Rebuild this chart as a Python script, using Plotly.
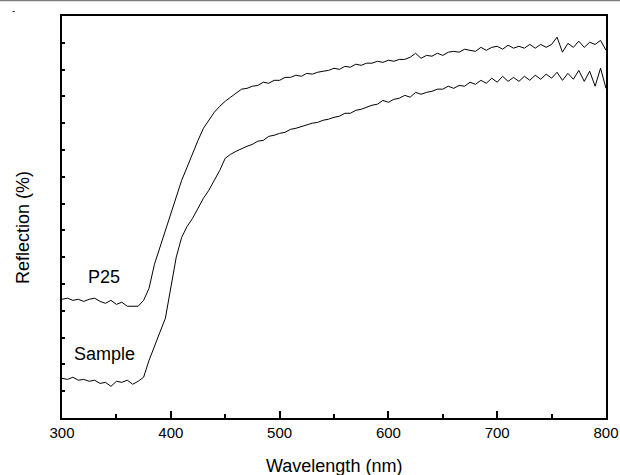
import plotly.graph_objects as go

wavelength = list(range(300, 801, 5))

p25 = [4.43, 4.47, 4.39, 4.43, 4.35, 4.43, 4.47, 4.35, 4.28, 4.39,
       4.24, 4.32, 4.17, 4.17, 4.17, 4.39, 4.84, 5.74, 6.37, 7.00,
       7.64, 8.24, 8.87, 9.36, 9.88, 10.36, 10.81, 11.11, 11.41, 11.63,
       11.82, 11.97, 12.12, 12.27, 12.30, 12.38, 12.41, 12.53, 12.49, 12.60,
       12.60, 12.71, 12.71, 12.79, 12.75, 12.86, 12.83, 12.90, 12.94, 12.97,
       13.05, 13.01, 13.12, 13.09, 13.20, 13.16, 13.24, 13.24, 13.31, 13.27,
       13.35, 13.31, 13.38, 13.38, 13.46, 13.61, 13.42, 13.53, 13.50, 13.61,
       13.53, 13.65, 13.68, 13.65, 13.76, 13.72, 13.68, 13.83, 13.72, 13.83,
       13.87, 13.76, 13.91, 13.80, 13.87, 13.80, 13.94, 13.80, 13.94, 13.83,
       13.94, 14.21, 13.65, 13.98, 13.83, 14.06, 13.83, 14.02, 13.94, 14.09,
       13.72]

sample = [1.48, 1.44, 1.52, 1.41, 1.44, 1.37, 1.41, 1.29, 1.33, 1.18,
          1.37, 1.33, 1.41, 1.26, 1.37, 1.52, 2.15, 2.71, 3.20, 3.72,
          4.88, 6.00, 6.74, 7.15, 7.45, 7.83, 8.20, 8.50, 8.87, 9.24,
          9.69, 9.84, 9.95, 10.06, 10.14, 10.21, 10.33, 10.36, 10.51, 10.55,
          10.62, 10.66, 10.77, 10.81, 10.88, 10.92, 11.00, 11.03, 11.11, 11.15,
          11.22, 11.26, 11.37, 11.37, 11.48, 11.52, 11.59, 11.67, 11.71, 11.85,
          11.78, 11.89, 11.93, 12.04, 11.97, 12.15, 12.08, 12.15, 12.19, 12.27,
          12.27, 12.38, 12.30, 12.41, 12.38, 12.53, 12.45, 12.60, 12.49, 12.68,
          12.53, 12.75, 12.56, 12.71, 12.56, 12.75, 12.60, 12.79, 12.64, 12.83,
          12.68, 12.90, 12.60, 12.86, 12.64, 12.97, 12.56, 12.94, 12.38, 13.05,
          12.30]

x_ticks = [300, 400, 500, 600, 700, 800]
series_labels = ["P25", "Sample"]

FONT = "Liberation Sans, Arial, Helvetica, sans-serif"

fig = go.Figure()
fig.add_trace(go.Scatter(x=wavelength, y=p25, mode="lines",
                         line=dict(color="black", width=1), name="P25"))
fig.add_trace(go.Scatter(x=wavelength, y=sample, mode="lines",
                         line=dict(color="black", width=1), name="Sample"))

fig.update_layout(
    width=620, height=475,
    margin=dict(l=62, r=14, t=16, b=57, autoexpand=False),
    paper_bgcolor="white", plot_bgcolor="white",
    showlegend=False,
    font=dict(family=FONT, color="black", size=15),
    xaxis=dict(range=[300, 800], tickvals=x_ticks, ticktext=[str(v) for v in x_ticks],
               ticks="inside", ticklen=7, tickwidth=1.5, tickcolor="black",
               minor=dict(tickvals=[350, 450, 550, 650, 750], ticks="inside",
                          ticklen=4, tickwidth=1.5, tickcolor="black"),
               showline=True, linecolor="black", linewidth=2, mirror=True,
               showgrid=False, zeroline=False, automargin=False,
               tickfont=dict(size=15, family=FONT, color="black")),
    yaxis=dict(range=[0, 15], dtick=1, tick0=0, showticklabels=False,
               ticks="inside", ticklen=3, tickwidth=1.5, tickcolor="black",
               showline=True, linecolor="black", linewidth=2, mirror=True,
               showgrid=False, zeroline=False, automargin=False),
    annotations=[
        dict(text="Wavelength (nm)", xref="paper", yref="paper", x=0.5, y=-0.1206,
             xanchor="center", yanchor="middle", showarrow=False,
             font=dict(size=18, family=FONT, color="black")),
        dict(text="Reflection (%)", xref="paper", yref="paper", x=-0.0717, y=0.475,
             xanchor="center", yanchor="middle", showarrow=False, textangle=-90,
             font=dict(size=18, family=FONT, color="black")),
        dict(text=series_labels[0], xref="x", yref="paper", x=339, y=(418 - 277) / 402,
             xanchor="center", yanchor="middle", showarrow=False,
             font=dict(size=18, family=FONT, color="black")),
        dict(text=series_labels[1], xref="x", yref="paper", x=339, y=(418 - 354) / 402,
             xanchor="center", yanchor="middle", showarrow=False,
             font=dict(size=18, family=FONT, color="black")),
    ],
    shapes=[
        dict(type="line", xref="paper", yref="paper", x0=-0.12, x1=1.03,
             y0=(418 - 0.5) / 402, y1=(418 - 0.5) / 402,
             line=dict(color="#808080", width=1.5)),
        dict(type="line", xref="paper", yref="paper",
             x0=(12.5 - 62) / 544, x1=(15 - 62) / 544,
             y0=(418 - 11.5) / 402, y1=(418 - 11.5) / 402,
             line=dict(color="#444444", width=1)),
    ],
)

fig.write_html("out.html", config={"displayModeBar": False})

with open("out.html", "r", encoding="utf-8") as f:
    html = f.read()
html = html.replace("<head>", "<head><style>html,body{margin:0;padding:0;overflow:hidden;}</style>", 1)
with open("out.html", "w", encoding="utf-8") as f:
    f.write(html)
